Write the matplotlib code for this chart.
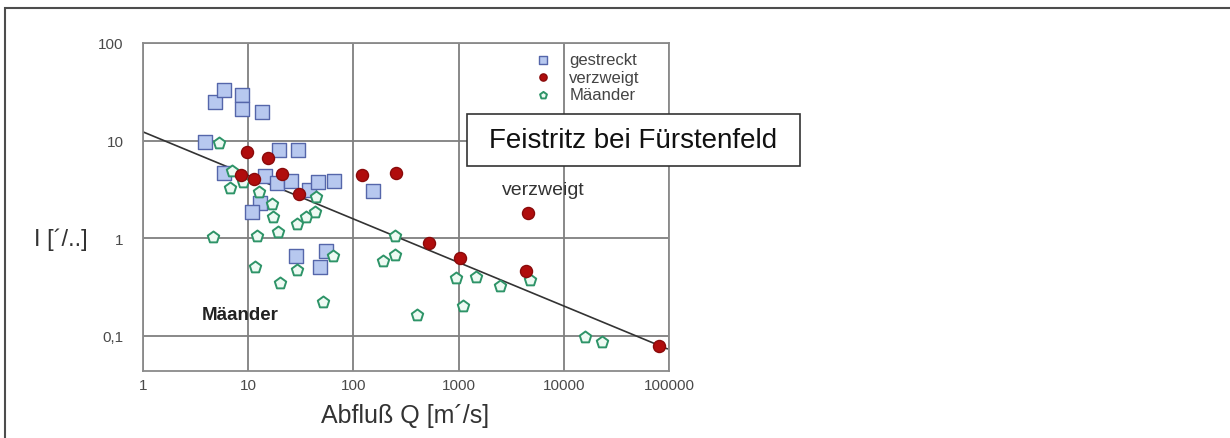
import matplotlib
matplotlib.use("Agg")
import matplotlib.pyplot as plt
from matplotlib.patches import Rectangle

plt.rcParams["font.family"] = ["Liberation Sans", "DejaVu Sans"]

# ======================================
# DATA
# ======================================
gestreckt_q = [4.8, 5.9, 8.7, 8.7, 13.5, 3.9, 19.6, 29.7, 5.9, 14.4, 18.8,
               25.5, 37.8, 46, 65.4, 153, 12.9, 10.9, 28.5, 54.9, 48.2]
gestreckt_i = [24.9, 33, 29.4, 21.1, 19.7, 9.7, 8.0, 8.0, 4.67, 4.35, 3.69,
               3.87, 3.13, 3.78, 3.87, 3.06, 2.30, 1.86, 0.66, 0.74, 0.51]

verzweigt_q = [9.7, 15.4, 8.5, 11.4, 21, 30.4, 121, 254, 4570, 523, 1031,
               4370, 80300]
verzweigt_i = [7.66, 6.65, 4.46, 4.05, 4.56, 2.85, 4.46, 4.67, 1.82, 0.90,
               0.63, 0.46, 0.079]

maeander_q = [5.3, 7.0, 8.9, 6.7, 12.7, 16.8, 17.2, 29.1, 35.4, 43.2, 44.1,
              4.6, 12.1, 19.2, 64, 29.1, 11.6, 20, 51.4, 249, 191, 249,
              944, 1463, 2475, 4770, 1100, 402, 15900, 23100]
maeander_i = [9.47, 4.9, 3.78, 3.28, 2.98, 2.25, 1.66, 1.40, 1.66, 1.86, 2.65,
              1.03, 1.06, 1.16, 0.66, 0.475, 0.51, 0.35, 0.223, 1.06, 0.59,
              0.68, 0.39, 0.40, 0.326, 0.375, 0.203, 0.164, 0.098, 0.087]

trend_q = [1, 96000]
trend_i = [12.3, 0.074]

x_ticks = [1, 10, 100, 1000, 10000, 100000]
x_labels = ["1", "10", "100", "1000", "10000", "100000"]
y_ticks = [0.1, 1, 10, 100]
y_labels = ["0,1", "1", "10", "100"]

# ======================================
# FIGURE
# ======================================
W, H = 1230, 439
fig = plt.figure(figsize=(W / 100, H / 100), dpi=100)

# outer frame (runs off right and bottom edge)
fig.patches.append(Rectangle((5 / W, -0.05), 1.1, 1 - 9 / H + 0.05,
                             transform=fig.transFigure, fill=False,
                             edgecolor="#4d4d4d", linewidth=1.5))

ax = fig.add_axes([143 / W, 1 - 372 / H, (669 - 143) / W, (372 - 44) / H])
ax.set_xscale("log")
ax.set_yscale("log")
ax.set_xlim(1, 100000)
ax.set_ylim(0.0438, 100)

ax.set_xticks(x_ticks)
ax.set_xticklabels(x_labels)
ax.set_yticks(y_ticks)
ax.set_yticklabels(y_labels)
ax.minorticks_off()
ax.tick_params(length=0, labelsize=11, colors="#4a4a4a")
ax.tick_params(axis="x", pad=5)
ax.tick_params(axis="y", pad=14)

ax.grid(True, which="major", color="#7f7f7f", linewidth=1.3)
ax.set_axisbelow(True)
for s in ax.spines.values():
    s.set_color("#8a8a8a")
    s.set_linewidth(1.3)

ax.plot(trend_q, trend_i, color="#333333", linewidth=1.2, zorder=2)

ax.scatter(gestreckt_q, gestreckt_i, marker="s", s=115, facecolor="#b7c8ef",
           edgecolor="#5566aa", linewidth=1.0, zorder=3, label="gestreckt")
ax.scatter(verzweigt_q, verzweigt_i, marker="o", s=75, facecolor="#b00d0d",
           edgecolor="#8a0a0a", linewidth=1.0, zorder=4, label="verzweigt")
ax.scatter(maeander_q, maeander_i, marker="p", s=75, facecolor="#eefaf3",
           edgecolor="#2e9468", linewidth=1.4, zorder=3, label="Mäander")

leg = ax.legend(loc="upper left", bbox_to_anchor=(0.728, 0.972), frameon=False,
                fontsize=12, borderaxespad=0, borderpad=0, handletextpad=0.6,
                labelspacing=0.15, markerscale=0.6)
for t in leg.get_texts():
    t.set_color("#444444")

# annotations
fig.patches.append(Rectangle((467 / W, 1 - 167 / H), (800 - 467) / W, 52 / H,
                             transform=fig.transFigure, facecolor="white",
                             edgecolor="#333333", linewidth=1.2, zorder=5))
fig.text(633 / W, 1 - 141 / H, "Feistritz bei Fürstenfeld", fontsize=20,
         ha="center", va="center", color="#111111", zorder=6)
fig.text(543 / W, 1 - 191 / H, "verzweigt", fontsize=14, ha="center",
         va="center", color="#333333")
fig.text(240 / W, 1 - 316 / H, "Mäander", fontsize=13.5, fontweight="bold",
         ha="center", va="center", color="#222222")

fig.text(61 / W, 1 - 240 / H, "I [´/..]", fontsize=17, ha="center",
         va="center", color="#333333")
fig.text(405 / W, 1 - 416 / H, "Abfluß Q [m´/s]", fontsize=18, ha="center",
         va="center", color="#333333")

fig.savefig("out.png", dpi=100)
